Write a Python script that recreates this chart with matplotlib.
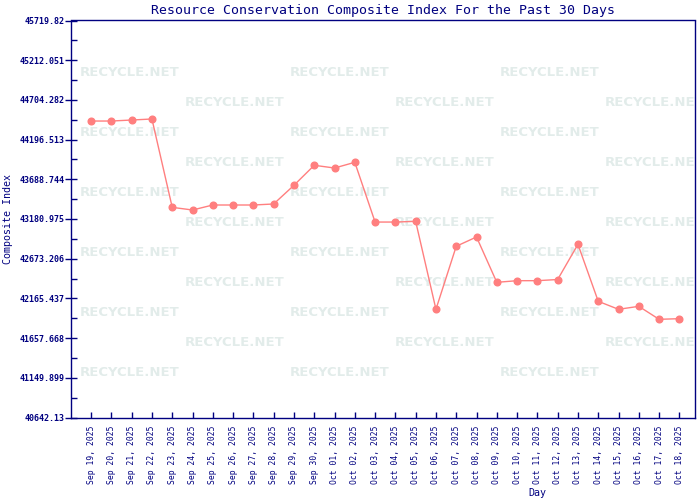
import matplotlib
matplotlib.use("Agg")
import matplotlib.pyplot as plt
import numpy as np

# values
days = ["Sep 19, 2025", "Sep 20, 2025", "Sep 21, 2025", "Sep 22, 2025", "Sep 23, 2025",
        "Sep 24, 2025", "Sep 25, 2025", "Sep 26, 2025", "Sep 27, 2025", "Sep 28, 2025",
        "Sep 29, 2025", "Sep 30, 2025", "Oct 01, 2025", "Oct 02, 2025", "Oct 03, 2025",
        "Oct 04, 2025", "Oct 05, 2025", "Oct 06, 2025", "Oct 07, 2025", "Oct 08, 2025",
        "Oct 09, 2025", "Oct 10, 2025", "Oct 11, 2025", "Oct 12, 2025", "Oct 13, 2025",
        "Oct 14, 2025", "Oct 15, 2025", "Oct 16, 2025", "Oct 17, 2025", "Oct 18, 2025"]
index = [44434, 44434, 44447, 44460, 43330, 43296, 43360, 43360, 43360, 43373,
         43612, 43868, 43833, 43906, 43142, 43142, 43151, 42026, 42832, 42951,
         42371, 42392, 42392, 42407, 42857, 42128, 42026, 42064, 41898, 41906]

y_min = 40642.13
y_max = 45719.82
y_step = 507.769
ylabels = ["40642.13", "41149.899", "41657.668", "42165.437", "42673.206", "43180.975",
           "43688.744", "44196.513", "44704.282", "45212.051", "45719.82"]

navy = "#000080"
W, H = 700, 500

fig = plt.figure(figsize=(7, 5), dpi=100)
ax_l, ax_b, ax_w, ax_h = 71, 417.5, 624, 397
ax = fig.add_axes([ax_l / W, 1 - ax_b / H, ax_w / W, ax_h / H])

# watermark grid (clipped by the plot area like in the original)
for k in range(11):
    py = 73 + 30 * k
    xs = [130, 340, 550] if k % 2 == 0 else [235, 445, 655]
    for px in xs:
        ax.text((px - ax_l) / ax_w, (ax_b - py) / ax_h, "RECYCLE.NET",
                transform=ax.transAxes, ha="center", va="center",
                fontsize=9.5, fontweight="bold", color="#e2ecea",
                family="DejaVu Sans", zorder=0.5, clip_on=True)

x = np.arange(len(days))
ax.plot(x, index, color="#ff7f7f", linewidth=1.0, marker="o",
        markersize=4.8, markerfacecolor="#ff7f7f", markeredgecolor="#ff7f7f", zorder=3)

ax.set_xlim(-0.99, 29.77)
ax.set_ylim(y_min, y_max)

ax.set_yticks([y_min + i * y_step for i in range(11)])
ax.set_yticklabels(ylabels, family="DejaVu Sans Mono", fontsize=6, fontweight="bold", color=navy)
ax.set_yticks([y_min + (i + 0.5) * y_step for i in range(10)], minor=True)
ax.tick_params(axis="y", which="major", direction="inout", length=9, width=1, color=navy, pad=0)
ax.tick_params(axis="y", which="minor", direction="in", length=4, width=1, color=navy)

ax.set_xticks(x)
ax.set_xticklabels(days, rotation=90, family="DejaVu Sans Mono", fontsize=5.8, color=navy)
ax.tick_params(axis="x", direction="in", length=4, width=1, color=navy, pad=6)

for s in ax.spines.values():
    s.set_color(navy)
    s.set_linewidth(1)

ax.set_title("Resource Conservation Composite Index For the Past 30 Days",
             family="DejaVu Sans Mono", fontsize=9.5, color=navy, pad=5)
ax.set_ylabel("Composite Index", family="DejaVu Sans Mono", fontsize=7.2, color=navy)
ax.yaxis.set_label_coords((13 - ax_l) / ax_w, 0.5)
ax.set_xlabel("Day", family="DejaVu Sans Mono", fontsize=7.2, color=navy)
ax.xaxis.set_label_coords((537 - ax_l) / ax_w, (ax_b - 488) / ax_h)

fig.savefig("out.png", dpi=100)
